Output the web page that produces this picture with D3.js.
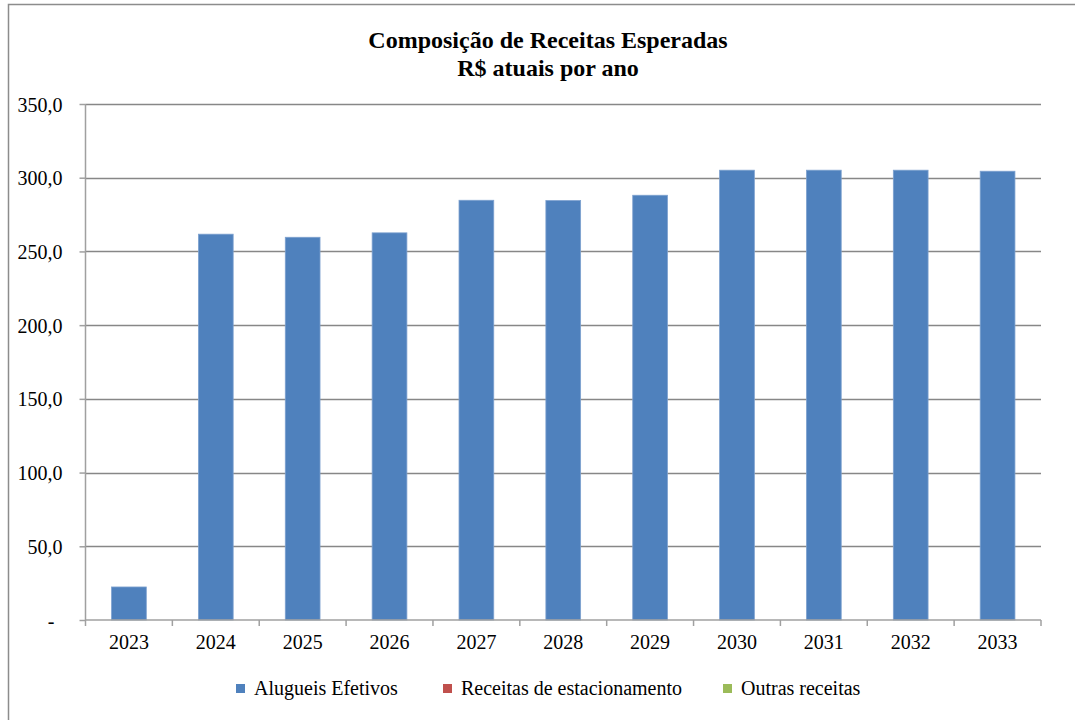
<!DOCTYPE html>
<html lang="pt">
<head>
<meta charset="utf-8">
<title>Composição de Receitas Esperadas</title>
<script src="https://cdn.jsdelivr.net/npm/d3@7"></script>
<style>
  body { margin: 0; background: #fff; }
  svg text { font-family: "Liberation Serif", "Times New Roman", serif; fill: #000; }
</style>
</head>
<body>
<svg></svg>
<script>
// data
var years = ["2023","2024","2025","2026","2027","2028","2029","2030","2031","2032","2033"];
var alugueis = [22.4, 261.7, 259.6, 262.6, 284.7, 284.5, 288.1, 305.1, 305.1, 305.1, 304.4];
var estacionamento = [0, 0, 0, 0, 0, 0, 0, 0, 0, 0, 0];
var outras = [0, 0, 0, 0, 0, 0, 0, 0, 0, 0, 0];
var seriesNames = ["Alugueis Efetivos", "Receitas de estacionamento", "Outras receitas"];
var seriesColors = ["#4f81bd", "#c0504d", "#9bbb59"];
var yTicks = [0, 50, 100, 150, 200, 250, 300, 350];

var width = 1075, height = 720;
var svg = d3.select("svg").attr("width", width).attr("height", height);

// chart border
svg.append("rect")
  .attr("x", 8.5).attr("y", 4.5)
  .attr("width", 1080).attr("height", 730)
  .attr("fill", "none").attr("stroke", "#8c8c8c").attr("stroke-width", 1.5);

var pLeft = 85.5, pRight = 1041, pTop = 104, pBottom = 620;

var x = d3.scaleBand().domain(years).range([pLeft, pRight]).paddingInner(0.6).paddingOuter(0.3);
var y = d3.scaleLinear().domain([0, 350]).range([pBottom, pTop]);

// gridlines
svg.append("g").selectAll("line")
  .data(yTicks.filter(function(d){ return d > 0; }))
  .enter().append("line")
  .attr("x1", pLeft).attr("x2", pRight)
  .attr("y1", function(d){ return Math.round(y(d)) + 0.5; })
  .attr("y2", function(d){ return Math.round(y(d)) + 0.5; })
  .attr("stroke", "#878787").attr("stroke-width", 1.5);

// stacked bars
var table = years.map(function(yr, i){
  return { year: yr, a: alugueis[i], e: estacionamento[i], o: outras[i] };
});
var stack = d3.stack().keys(["a", "e", "o"])(table);

svg.append("g").selectAll("g")
  .data(stack)
  .enter().append("g")
  .attr("fill", function(d, i){ return seriesColors[i]; })
  .selectAll("rect")
  .data(function(d){ return d; })
  .enter().append("rect")
  .attr("x", function(d){ return x(d.data.year); })
  .attr("width", x.bandwidth())
  .attr("y", function(d){ return y(d[1]); })
  .attr("height", function(d){ return y(d[0]) - y(d[1]); })
  .attr("stroke", "#7da1cf").attr("stroke-width", function(d){ return d[1] - d[0] > 0 ? 0.8 : 0; });

// y axis
var fmt = function(d){ return d === 0 ? "-" : d3.format(".1f")(d).replace(".", ","); };
var yAxis = svg.append("g")
  .attr("transform", "translate(" + pLeft + ",0)")
  .call(d3.axisLeft(y).tickValues(yTicks).tickSize(6).tickPadding(24).tickFormat(fmt));
yAxis.select(".domain").attr("stroke", "#a0a0a0").attr("stroke-width", 1.5).attr("d", "M0," + pTop + "V" + pBottom);
yAxis.selectAll(".tick line").attr("stroke", "#a0a0a0").attr("stroke-width", 1.5);
yAxis.selectAll(".tick text").attr("font-size", 20).attr("dy", "0.35em")
  .attr("x", function(d){ return d === 0 ? -31 : -23; });

// x axis
var xAxis = svg.append("g")
  .attr("transform", "translate(0," + pBottom + ")")
  .call(d3.axisBottom(x).tickSize(0).tickPadding(15));
xAxis.select(".domain").attr("stroke", "#a0a0a0").attr("stroke-width", 1.5).attr("d", "M" + pLeft + ",0H" + pRight);
xAxis.selectAll(".tick text").attr("font-size", 20);
// category boundary ticks
var step = x.step();
svg.append("g").selectAll("line")
  .data(d3.range(years.length + 1))
  .enter().append("line")
  .attr("x1", function(i){ return pLeft + i * step; })
  .attr("x2", function(i){ return pLeft + i * step; })
  .attr("y1", pBottom).attr("y2", pBottom + 6)
  .attr("stroke", "#a0a0a0").attr("stroke-width", 1.5);

// title
var title = svg.append("text").attr("text-anchor", "middle").attr("font-weight", "bold").attr("font-size", 24);
title.append("tspan").attr("x", 548).attr("y", 48).text("Composição de Receitas Esperadas");
title.append("tspan").attr("x", 548).attr("y", 76).text("R$ atuais por ano");

// legend
var legendX = [236, 443, 723];
var legend = svg.append("g").selectAll("g")
  .data(seriesNames)
  .enter().append("g")
  .attr("transform", function(d, i){ return "translate(" + legendX[i] + ",684)"; });
legend.append("rect").attr("width", 9).attr("height", 9)
  .attr("fill", function(d, i){ return seriesColors[i]; });
legend.append("text").attr("x", 18).attr("y", 11).attr("font-size", 20).text(function(d){ return d; });
</script>
</body>
</html>
